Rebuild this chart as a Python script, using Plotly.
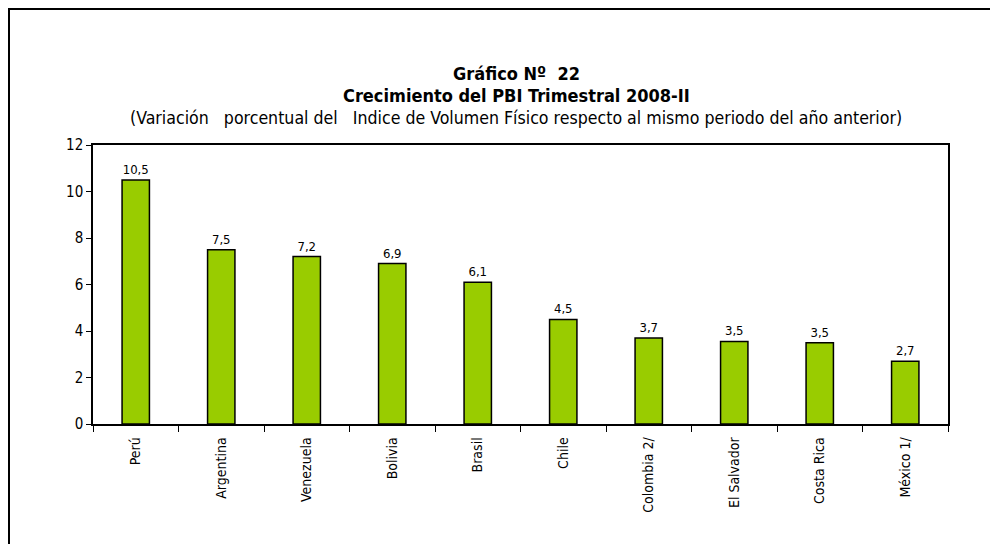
import plotly.graph_objects as go

countries = ["Perú", "Argentina", "Venezuela", "Bolivia", "Brasil", "Chile",
             "Colombia 2/", "El Salvador", "Costa Rica", "México 1/"]
values = [10.5, 7.5, 7.2, 6.9, 6.1, 4.5, 3.7, 3.55, 3.5, 2.7]
labels = ["10,5", "7,5", "7,2", "6,9", "6,1", "4,5", "3,7", "3,5", "3,5", "2,7"]

FONT = "DejaVu Sans Condensed, Liberation Sans, sans-serif"

# page body has an 8px offset; compensate so the picture lands where the reference is
OFF = 8
W, H = 998 - OFF, 544 - OFF
L, T = 93 - OFF, 145 - OFF
R = W - (948 - OFF)
B = H - (424 - OFF)
pw, ph = W - L - R, H - T - B
CX = (516 - OFF - L) / pw

fig = go.Figure()
fig.add_trace(go.Bar(
    x=countries, y=values, text=labels, textposition="outside",
    textfont=dict(family=FONT, size=13, color="black"),
    marker=dict(color="#99CC00", line=dict(color="black", width=1.5)),
    cliponaxis=False,
))

fig.update_layout(
    width=W, height=H,
    margin=dict(l=L, r=R, t=T, b=B),
    paper_bgcolor="white", plot_bgcolor="white",
    bargap=0.68,
    showlegend=False,
    font=dict(family=FONT, color="black"),
    shapes=[dict(type="rect", xref="paper", yref="paper",
                 x0=(1 - L) / pw, x1=1.3, y0=-1.0, y1=1 + (T - 1) / ph,
                 line=dict(color="black", width=2), layer="below")],
    annotations=[
        dict(text="<b>Gráfico Nº  22</b>", xref="paper", yref="paper",
             x=CX, y=1 + (T - (74 - OFF)) / ph, showarrow=False,
             font=dict(family=FONT, size=18), xanchor="center", yanchor="middle"),
        dict(text="<b>Crecimiento del PBI Trimestral 2008-II</b>", xref="paper", yref="paper",
             x=CX, y=1 + (T - (95 - OFF)) / ph, showarrow=False,
             font=dict(family=FONT, size=18), xanchor="center", yanchor="middle"),
        dict(text="(Variación   porcentual del   Indice de Volumen Físico respecto al mismo periodo del año anterior)",
             xref="paper", yref="paper",
             x=CX, y=1 + (T - (118 - OFF)) / ph, showarrow=False,
             font=dict(family=FONT, size=17.6), xanchor="center", yanchor="middle"),
    ],
)
fig.update_xaxes(
    showline=True, linecolor="black", linewidth=1.5, mirror=True,
    ticks="outside", ticklen=6, tickcolor="black", tickson="boundaries",
    tickangle=-90, tickfont=dict(family=FONT, size=14), ticklabelstandoff=6,
    showgrid=False,
)
fig.update_yaxes(
    range=[0, 12], dtick=2, showline=True, linecolor="black", linewidth=1.5, mirror=True,
    ticks="outside", ticklen=5, tickcolor="black",
    tickfont=dict(family=FONT, size=15), showgrid=False, zeroline=False,
)

fig.write_html("out.html")
